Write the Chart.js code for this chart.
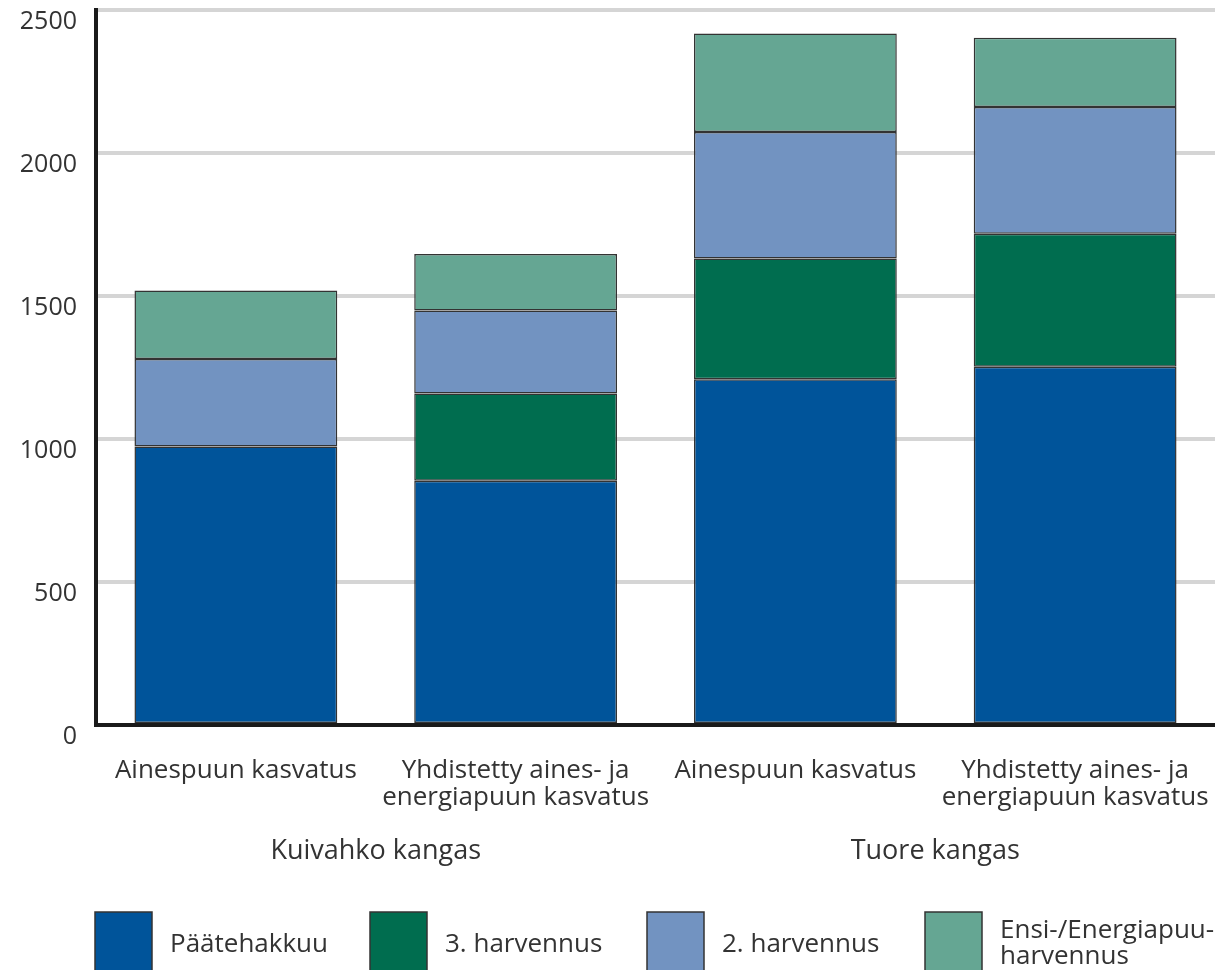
<!DOCTYPE html>
<html>
<head>
<meta charset="utf-8">
<script src="https://cdn.jsdelivr.net/npm/chart.js@4"></script>
<style>
  body { margin: 0; background: #fff; }
  #wrap { width: 1215px; height: 970px; position: relative; }
</style>
</head>
<body>
<div id="wrap"><canvas id="chart"></canvas></div>
<script>
// Luokat ja ryhmät
const categories = [
    ['Ainespuun kasvatus'],
    ['Yhdistetty aines- ja', 'energiapuun kasvatus'],
    ['Ainespuun kasvatus'],
    ['Yhdistetty aines- ja', 'energiapuun kasvatus']
];
const groups = ['Kuivahko kangas', 'Tuore kangas'];

// Sarjat (pinottu)
const paatehakkuu = [974, 854, 1209, 1253];
const harvennus3 = [0, 305, 422, 465];
const harvennus2 = [306, 290, 442, 443];
const ensiHarvennus = [239, 198, 345, 242];

const yTicks = [0, 500, 1000, 1500, 2000, 2500];

const FONT = "'Open Sans', 'Noto Sans', sans-serif";

// Selite ja ryhmänimet piirretään itse
const extraLabels = {
    id: 'extraLabels',
    afterDraw(chart) {
        const ctx = chart.ctx;
        const x = chart.scales.x;
        ctx.save();
        ctx.fillStyle = '#333';
        ctx.textAlign = 'center';
        ctx.textBaseline = 'middle';
        ctx.font = '500 27px ' + FONT;
        groups.forEach((g, i) => {
            const cx = (x.getPixelForValue(i * 2) + x.getPixelForValue(i * 2 + 1)) / 2;
            ctx.fillText(g, cx, 851);
        });

        // selite
        const boxX = [95, 370, 647, 925];
        ctx.font = '26px ' + FONT;
        ctx.textAlign = 'left';
        chart.data.datasets.forEach((ds, i) => {
            ctx.fillStyle = ds.backgroundColor;
            ctx.fillRect(boxX[i], 912, 57, 60);
            ctx.strokeStyle = '#333';
            ctx.lineWidth = 1.5;
            ctx.strokeRect(boxX[i], 912, 57, 60);
            ctx.fillStyle = '#333';
            const lines = ds.legendLines;
            if (lines.length === 1) {
                ctx.fillText(lines[0], boxX[i] + 75, 945);
            } else {
                ctx.fillText(lines[0], boxX[i] + 75, 931);
                ctx.fillText(lines[1], boxX[i] + 75, 957);
            }
        });
        ctx.restore();
    }
};

const ctx = document.getElementById('chart').getContext('2d');
new Chart(ctx, {
    type: 'bar',
    data: {
        labels: categories,
        datasets: [
            { label: 'Päätehakkuu', legendLines: ['Päätehakkuu'], data: paatehakkuu, backgroundColor: '#00549a' },
            { label: '3. harvennus', legendLines: ['3. harvennus'], data: harvennus3, backgroundColor: '#006d4f' },
            { label: '2. harvennus', legendLines: ['2. harvennus'], data: harvennus2, backgroundColor: '#7293c1' },
            { label: 'Ensi-/Energiapuu-harvennus', legendLines: ['Ensi-/Energiapuu-', 'harvennus'], data: ensiHarvennus, backgroundColor: '#65a693' }
        ].map(ds => Object.assign(ds, {
            borderColor: '#333',
            borderWidth: 1.5,
            borderSkipped: false,
            categoryPercentage: 1,
            barPercentage: 0.725
        }))
    },
    options: {
        responsive: true,
        maintainAspectRatio: false,
        animation: false,
        layout: { padding: { top: 10, right: 0, left: 0, bottom: 0 } },
        plugins: {
            legend: { display: false },
            tooltip: { enabled: false }
        },
        scales: {
            x: {
                stacked: true,
                grid: { display: false, drawTicks: false },
                border: { display: true, color: '#1a1a1a', width: 4 },
                ticks: {
                    color: '#333',
                    font: { family: FONT, size: 26, lineHeight: 1.04 },
                    padding: 32,
                    maxRotation: 0,
                    autoSkip: false
                },
                afterFit(scale) {
                    scale.height = 245;
                    scale.paddingLeft = 0;
                    scale.paddingRight = 0;
                }
            },
            y: {
                stacked: true,
                min: 0,
                max: 2500,
                afterBuildTicks(scale) { scale.ticks = yTicks.map(v => ({ value: v })); },
                grid: { color: '#d5d5d5', lineWidth: 4, drawTicks: false },
                border: { display: true, color: '#1a1a1a', width: 4 },
                ticks: {
                    color: '#333',
                    font: { family: FONT, size: 25 },
                    padding: 19,
                    labelOffset: 12,
                    callback: v => String(v)
                },
                afterFit(scale) {
                    scale.width = 96;
                    scale.paddingTop = 0;
                    scale.paddingBottom = 0;
                }
            }
        }
    },
    plugins: [extraLabels]
});
</script>
</body>
</html>
